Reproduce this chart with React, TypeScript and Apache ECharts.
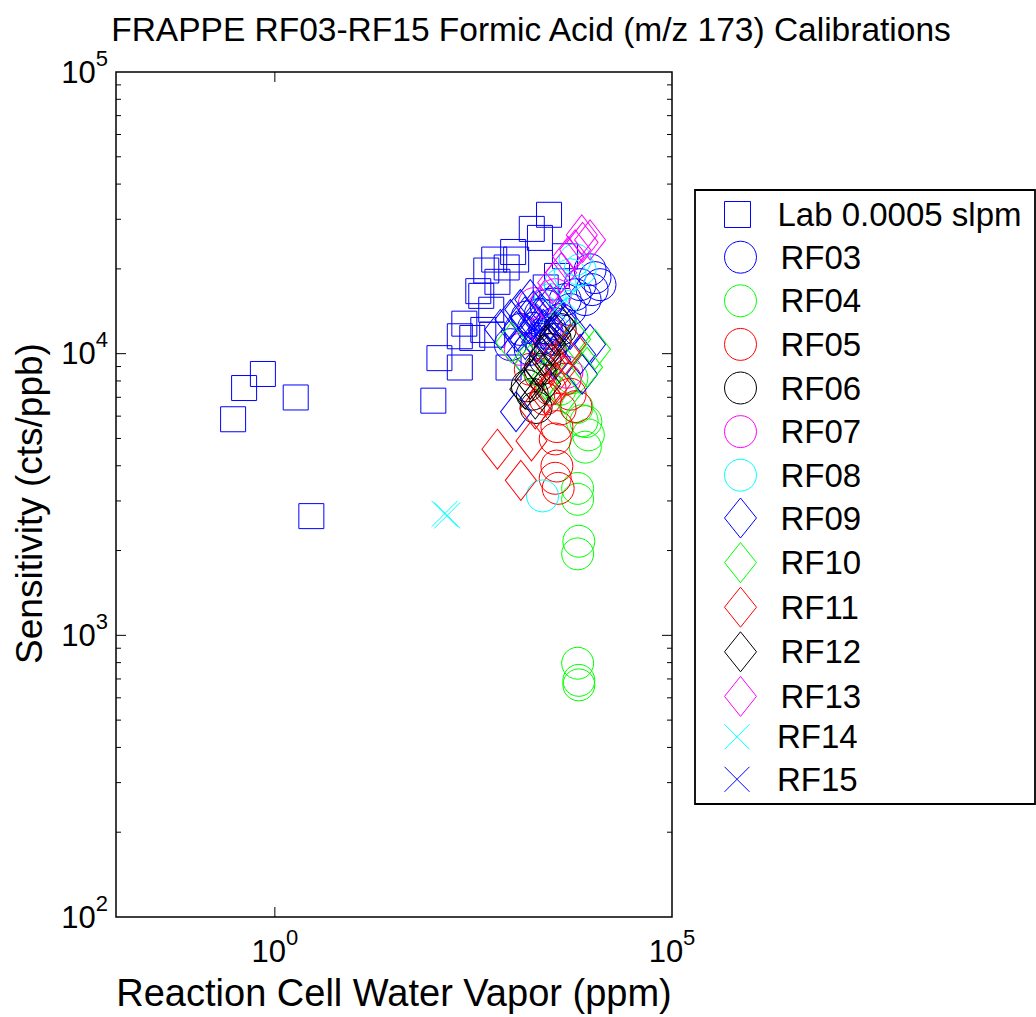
import React, { useEffect, useRef } from 'react';
import * as echarts from 'echarts';

const FONT = '"Liberation Sans", Arial, Helvetica, sans-serif';

const titleText = 'FRAPPE RF03-RF15 Formic Acid (m/z 173) Calibrations';
const xAxisTitle = 'Reaction Cell Water Vapor (ppm)';
const yAxisTitle = 'Sensitivity (cts/ppb)';
const xLabelExponents = [0, 5];
const xMin = 0.01;
const xMax = 100000;
const yMin = 100;
const yMax = 100000;

// [water vapor ppm, sensitivity cts/ppb]
const labPoints: [number, number][] = [
  [0.298, 5850], [0.41, 7550], [0.707, 8470], [1.83, 6990], [2.88, 2650], [98.9, 6810],
  [2831, 31120], [1717, 27730], [2176, 25760], [1000, 22960], [578, 21580], [1091, 21580],
  [829, 20230], [459, 19730], [634, 17990], [364, 16670], [397, 16040], [530, 14320],
  [243, 12780], [213, 11530], [306, 11370], [421, 12140], [545, 11680], [118, 9640],
  [213, 8930], [875, 8930], [4490, 22180], [3565, 18880], [2571, 17180],
];
const rf03Points: [number, number][] = [
  [9310, 19860], [10740, 18620], [12400, 17580], [9860, 16880], [8050, 15560], [6030, 16200],
  [5220, 14350], [3910, 13220], [2930, 12190], [2194, 11240], [1644, 10360], [1231, 12190],
  [922, 10770], [4520, 15560], [6970, 17580], [1500, 13500], [2600, 14800],
  [1800, 12300], [2200, 13800], [2700, 11800], [3300, 12800],
];
const rf04Points: [number, number][] = [
  [6486, 796], [6714, 692], [6714, 667], [6714, 2157], [6486, 1946], [6486, 3324], [6486, 3040],
  [8850, 5150], [8100, 4657], [7385, 5780], [6390, 6440], [8240, 5740], [3910, 7480], [5500, 8200],
];
const rf05Points: [number, number][] = [
  [3555, 3990], [3385, 3610], [3690, 3325], [3555, 5510], [3385, 4980], [6170, 6490], [3910, 6360],
  [2535, 6900], [2930, 7480], [4520, 8120], [2194, 8450], [5220, 7180], [1644, 8800], [2765, 10340],
];
const rf06Points: [number, number][] = [
  [1507, 7690], [1944, 6440], [2194, 8800], [2930, 10360], [2535, 9550], [3385, 11240],
  [3910, 12190], [1742, 7180],
];
const rf07Points: [number, number][] = [
  [1845, 15060], [1231, 10360], [4745, 8590], [3385, 16200], [2535, 12190],
];
const rf08Points: [number, number][] = [
  [2345, 3125], [6030, 21550], [6970, 19860], [3910, 17580], [5220, 19060], [2930, 15560],
];
const rf09Points: [number, number][] = [
  [1087, 6220], [7385, 8450], [922, 13220], [1231, 14350], [1644, 15560], [2194, 13780],
  [2930, 14930], [3910, 13220], [5220, 12190], [690, 12190], [1422, 11240], [2535, 10790],
  [1900, 12700], [9310, 10790], [6970, 9940], [3385, 9550],
  [1100, 12000], [1400, 13500], [1800, 14200], [2400, 12200], [3000, 11500], [1300, 10000], [2000, 11000],
];
const rf10Points: [number, number][] = [
  [949, 10960], [8530, 8950], [10740, 10360], [6030, 11240], [4520, 7180], [2535, 8120], [1644, 9170],
];
const rf11Points: [number, number][] = [
  [634, 4580], [1702, 4900], [1250, 3550], [1900, 6360], [2535, 7180], [3385, 7800], [3910, 8800],
  [4520, 9940], [2930, 9170], [5220, 10790],
];
const rf12Points: [number, number][] = [
  [1422, 7480], [1644, 8120], [2194, 8800], [2535, 9940], [2930, 10790], [3385, 11700],
  [3910, 12700], [1900, 6900], [2535, 7800],
];
const rf13Points: [number, number][] = [
  [7315, 26400], [7490, 24840], [4930, 22080], [4025, 19380], [3195, 17870], [6030, 23370],
  [2535, 15560], [9310, 25350],
];
const rf14Points: [number, number][] = [
  [148, 2665], [137, 2700], [4520, 15560], [3385, 14350],
];
const rf15Points: [number, number][] = [
  [2194, 12190], [2930, 13220], [1644, 11240], [3600, 12000],
];

const seriesNames = [
  'Lab 0.0005 slpm', 'RF03', 'RF04', 'RF05', 'RF06', 'RF07', 'RF08',
  'RF09', 'RF10', 'RF11', 'RF12', 'RF13', 'RF14', 'RF15',
];
const seriesData = [
  labPoints, rf03Points, rf04Points, rf05Points, rf06Points, rf07Points, rf08Points,
  rf09Points, rf10Points, rf11Points, rf12Points, rf13Points, rf14Points, rf15Points,
];
const seriesColors = [
  '#0000FF', '#0000FF', '#00FF00', '#FF0000', '#000000', '#FF00FF', '#00FFFF',
  '#0000FF', '#00FF00', '#FF0000', '#000000', '#FF00FF', '#00FFFF', '#0000FF',
];
const seriesMarkers = [
  'square', 'circle', 'circle', 'circle', 'circle', 'circle', 'circle',
  'diamond', 'diamond', 'diamond', 'diamond', 'diamond', 'cross', 'cross',
];

const yMinorTicks = [
  200, 300, 400, 500, 600, 700, 800, 900,
  2000, 3000, 4000, 5000, 6000, 7000, 8000, 9000,
  20000, 30000, 40000, 50000, 60000, 70000, 80000, 90000,
];
const yMajorTicks = [1000, 10000];
const xMajorTicks = [1];

const MARKERS: Record<string, { symbol: string; size: number | number[]; legendH: number }> = {
  square: { symbol: 'path://M0,0L10,0L10,10L0,10Z', size: 25, legendH: 26 },
  circle: { symbol: 'circle', size: 32, legendH: 32 },
  diamond: { symbol: 'path://M16,0L32,20L16,40L0,20Z', size: [31, 40], legendH: 40 },
  cross: { symbol: 'path://M0,0L10,10M10,0L0,10', size: 26, legendH: 25 },
};

const LEGEND_TEXT_H = 33;
const legendGroups = [
  { marker: 'square', names: seriesNames.slice(0, 1), firstCenter: 214.5, pitch: 43.5 },
  { marker: 'circle', names: seriesNames.slice(1, 7), firstCenter: 257.2, pitch: 43.6 },
  { marker: 'diamond', names: seriesNames.slice(7, 12), firstCenter: 517.5, pitch: 43.6 },
  { marker: 'cross', names: seriesNames.slice(12, 14), firstCenter: 736.8, pitch: 42.5 },
];

const expRich = {
  b: { fontSize: 31, lineHeight: 50, fontFamily: FONT, color: '#000' },
  s: { fontSize: 22, lineHeight: 22, fontFamily: FONT, color: '#000', verticalAlign: 'top' },
};

export default function App() {
  const ref = useRef<HTMLDivElement>(null);
  useEffect(() => {
    document.body.style.margin = '0';
    if (!ref.current) return;
    const chart = echarts.init(ref.current, undefined, { renderer: 'svg' });

    const scatterSeries = seriesNames.map((name, i) => {
      const m = MARKERS[seriesMarkers[i]];
      return {
        type: 'scatter',
        name,
        data: seriesData[i],
        symbol: m.symbol,
        symbolSize: m.size,
        itemStyle: { color: 'rgba(0,0,0,0)', borderColor: seriesColors[i], borderWidth: 1, opacity: 1 },
        emphasis: { disabled: true },
        silent: true,
        z: 3,
      };
    });

    const yTickData = [
      ...yMinorTicks.map((v) => [xMin, v, 5]),
      ...yMajorTicks.map((v) => [xMin, v, 10]),
    ];
    const xTickData = xMajorTicks.map((v) => [v, yMin, 10]);

    const option: any = {
      animation: false,
      backgroundColor: '#fff',
      grid: {
        left: 116, top: 72, width: 556, height: 849,
        show: true, borderColor: '#000', borderWidth: 1.5, backgroundColor: 'rgba(0,0,0,0)',
      },
      xAxis: {
        type: 'log', logBase: 10, min: xMin, max: xMax,
        axisLine: { show: false }, axisTick: { show: false }, splitLine: { show: false },
        axisLabel: {
          margin: 9,
          formatter: (v: number) => {
            const e = Math.round(Math.log10(v));
            return xLabelExponents.includes(e) ? `{b|10}{s|${e}}` : '';
          },
          rich: expRich,
        },
        name: xAxisTitle, nameLocation: 'middle', nameGap: 57,
        nameTextStyle: { fontSize: 38, fontFamily: FONT, color: '#000' },
      },
      yAxis: {
        type: 'log', logBase: 10, min: yMin, max: yMax,
        axisLine: { show: false }, axisTick: { show: false }, splitLine: { show: false },
        axisLabel: {
          margin: 8,
          formatter: (v: number) => `{b|10}{s|${Math.round(Math.log10(v))}}`,
          rich: expRich,
        },
        name: yAxisTitle, nameLocation: 'middle', nameGap: 68,
        nameTextStyle: { fontSize: 37, fontFamily: FONT, color: '#000', padding: [0, 18, 0, 0] },
      },
      legend: legendGroups.map((g) => {
        const h = MARKERS[g.marker].legendH;
        const rowH = Math.max(h, LEGEND_TEXT_H);
        return {
          orient: 'vertical',
          left: 724,
          top: g.firstCenter - rowH / 2,
          padding: 0,
          itemWidth: 70,
          itemHeight: h,
          itemGap: g.pitch - rowH,
          selectedMode: false,
          textStyle: { fontSize: 33, fontFamily: FONT, color: '#000', lineHeight: LEGEND_TEXT_H },
          itemStyle: { borderWidth: 1 },
          data: g.names.map((n) => {
            const idx = seriesNames.indexOf(n);
            return {
              name: n,
              icon: MARKERS[g.marker].symbol,
              itemStyle: { color: 'rgba(0,0,0,0)', borderColor: seriesColors[idx], borderWidth: 1 },
            };
          }),
        };
      }),
      graphic: [
        {
          type: 'text', x: 531, y: 29, silent: true,
          style: {
            text: titleText, font: `33.5px ${FONT}`, fill: '#000',
            textAlign: 'center', textVerticalAlign: 'middle',
          },
        },
        {
          type: 'rect', silent: true, z: 1,
          shape: { x: 695, y: 190, width: 340, height: 614 },
          style: { fill: '#fff', stroke: '#000', lineWidth: 1.8 },
        },
      ],
      series: [
        ...scatterSeries,
        {
          type: 'custom', silent: true, z: 5,
          coordinateSystem: 'cartesian2d',
          data: yTickData,
          encode: { x: 0, y: 1 },
          renderItem: (_p: any, api: any) => {
            const y = api.value(1);
            const len = api.value(2);
            const l = api.coord([xMin, y]);
            const r = api.coord([xMax, y]);
            return {
              type: 'group',
              children: [
                { type: 'line', shape: { x1: l[0], y1: l[1], x2: l[0] + len, y2: l[1] }, style: { stroke: '#000', lineWidth: 1 } },
                { type: 'line', shape: { x1: r[0], y1: r[1], x2: r[0] - len, y2: r[1] }, style: { stroke: '#000', lineWidth: 1 } },
              ],
            };
          },
        },
        {
          type: 'custom', silent: true, z: 5,
          coordinateSystem: 'cartesian2d',
          data: xTickData,
          encode: { x: 0, y: 1 },
          renderItem: (_p: any, api: any) => {
            const x = api.value(0);
            const len = api.value(2);
            const b = api.coord([x, yMin]);
            const t = api.coord([x, yMax]);
            return {
              type: 'group',
              children: [
                { type: 'line', shape: { x1: b[0], y1: b[1], x2: b[0], y2: b[1] - len }, style: { stroke: '#000', lineWidth: 1 } },
                { type: 'line', shape: { x1: t[0], y1: t[1], x2: t[0], y2: t[1] + len }, style: { stroke: '#000', lineWidth: 1 } },
              ],
            };
          },
        },
      ],
    };
    chart.setOption(option);
    return () => chart.dispose();
  }, []);
  return <div ref={ref} style={{ width: 1036, height: 1017 }} />;
}
